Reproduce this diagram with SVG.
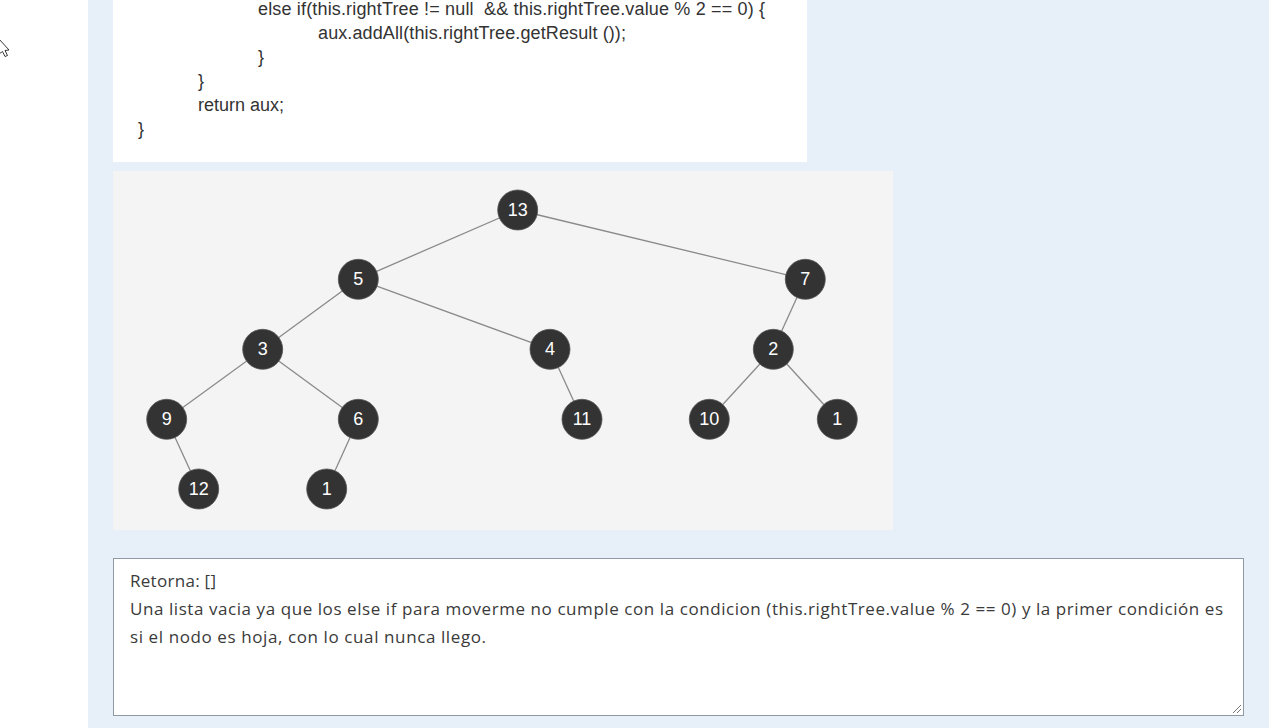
<svg xmlns="http://www.w3.org/2000/svg" width="1276" height="728" viewBox="0 0 1276 728">
<style>
.code{font-family:"Liberation Sans",Arial,sans-serif;font-size:18px;fill:#333;white-space:pre}
.ta{font-family:"Open Sans","Noto Sans",sans-serif;font-size:17px;fill:#3a3a3a;white-space:pre}
.edge{stroke:#8a8a8a;stroke-width:1.3;fill:none}
.node circle{fill:#333;stroke:#555;stroke-width:0.8}
.node text{font-family:"Liberation Sans",Arial,sans-serif;font-size:18px;fill:#fff;text-anchor:middle}
</style>
<rect x="0" y="0" width="1276" height="728" fill="#ffffff"/>
<rect x="88" y="0" width="1181" height="728" fill="#e7eff8"/>
<!-- cursor -->
<path d="M-1,39 L9,50 L5,50.5 L7.5,55.5 L5,56.5 L2.5,51.5 L-1,54 Z" fill="#fff" stroke="#222" stroke-width="0.9"/>
<!-- code box -->
<g id="code">
<rect x="113" y="0" width="694" height="162" fill="#ffffff"/>
<text class="code" x="258" y="15" textLength="507" lengthAdjust="spacing">else if(this.rightTree != null  &amp;&amp; this.rightTree.value % 2 == 0) {</text>
<text class="code" x="318" y="39" textLength="308" lengthAdjust="spacing">aux.addAll(this.rightTree.getResult ());</text>
<text class="code" x="258" y="63">}</text>
<text class="code" x="198" y="87">}</text>
<text class="code" x="198" y="111">return aux;</text>
<text class="code" x="138" y="135">}</text>
</g>
<!-- tree panel -->
<rect x="113" y="171" width="780" height="359" fill="#f4f4f4"/>
<g id="connectors">
<line class="edge" x1="517.7" y1="210" x2="358.3" y2="279.3"/>
<line class="edge" x1="517.7" y1="210" x2="805.3" y2="279.3"/>
<line class="edge" x1="358.3" y1="279.3" x2="262.7" y2="349.3"/>
<line class="edge" x1="358.3" y1="279.3" x2="550" y2="349.3"/>
<line class="edge" x1="805.3" y1="279.3" x2="773.3" y2="349.3"/>
<line class="edge" x1="262.7" y1="349.3" x2="166.7" y2="419.3"/>
<line class="edge" x1="262.7" y1="349.3" x2="358.3" y2="419.3"/>
<line class="edge" x1="550" y1="349.3" x2="582" y2="419.3"/>
<line class="edge" x1="773.3" y1="349.3" x2="709.3" y2="419.3"/>
<line class="edge" x1="773.3" y1="349.3" x2="837.3" y2="419.3"/>
<line class="edge" x1="166.7" y1="419.3" x2="198.7" y2="489"/>
<line class="edge" x1="358.3" y1="419.3" x2="326.7" y2="489"/>
</g>
<g id="n13" class="node"><circle cx="517.7" cy="210" r="20"/><text x="517.7" y="215.5">13</text></g>
<g id="n5" class="node"><circle cx="358.3" cy="279.3" r="20"/><text x="358.3" y="284.8">5</text></g>
<g id="n7" class="node"><circle cx="805.3" cy="279.3" r="20"/><text x="805.3" y="284.8">7</text></g>
<g id="n3" class="node"><circle cx="262.7" cy="349.3" r="20"/><text x="262.7" y="354.8">3</text></g>
<g id="n4" class="node"><circle cx="550" cy="349.3" r="20"/><text x="550" y="354.8">4</text></g>
<g id="n2" class="node"><circle cx="773.3" cy="349.3" r="20"/><text x="773.3" y="354.8">2</text></g>
<g id="n9" class="node"><circle cx="166.7" cy="419.3" r="20"/><text x="166.7" y="424.8">9</text></g>
<g id="n6" class="node"><circle cx="358.3" cy="419.3" r="20"/><text x="358.3" y="424.8">6</text></g>
<g id="n11" class="node"><circle cx="582" cy="419.3" r="20"/><text x="582" y="424.8">11</text></g>
<g id="n10" class="node"><circle cx="709.3" cy="419.3" r="20"/><text x="709.3" y="424.8">10</text></g>
<g id="n1b" class="node"><circle cx="837.3" cy="419.3" r="20"/><text x="837.3" y="424.8">1</text></g>
<g id="n12" class="node"><circle cx="198.7" cy="489" r="20"/><text x="198.7" y="494.5">12</text></g>
<g id="n1a" class="node"><circle cx="326.7" cy="489" r="20"/><text x="326.7" y="494.5">1</text></g>
<!-- textarea -->
<g id="answer">
<rect x="113.5" y="558.5" width="1130" height="157" fill="#ffffff" stroke="#8e9ba5" stroke-width="1"/>
<text class="ta" x="130" y="587" textLength="86" lengthAdjust="spacing">Retorna: []</text>
<text class="ta" x="130" y="615" textLength="1093" lengthAdjust="spacing">Una lista vacia ya que los else if para moverme no cumple con la condicion (this.rightTree.value % 2 == 0) y la primer condición es</text>
<text class="ta" x="130" y="643" textLength="356" lengthAdjust="spacing">si el nodo es hoja, con lo cual nunca llego.</text>
<path d="M1233,713 L1241,705 M1237,713 L1241,709" stroke="#777" stroke-width="1"/>
</g>
</svg>
